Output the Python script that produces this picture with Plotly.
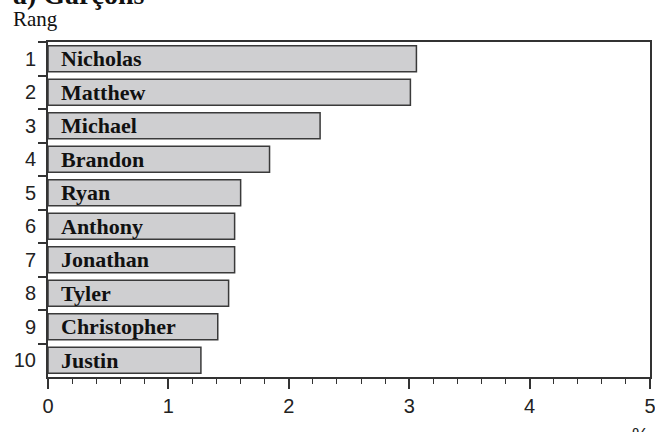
import plotly.graph_objects as go

# rank / name / share in %
ranks = ["1", "2", "3", "4", "5", "6", "7", "8", "9", "10"]
names = ["Nicholas", "Matthew", "Michael", "Brandon", "Ryan",
         "Anthony", "Jonathan", "Tyler", "Christopher", "Justin"]
shares = [3.06, 3.01, 2.26, 1.84, 1.60, 1.55, 1.55, 1.50, 1.41, 1.27]

fig = go.Figure()
fig.add_trace(go.Bar(x=shares, y=ranks, orientation="h",
                     marker=dict(color="#cfcfd1", line=dict(color="#3a3a3a", width=1.5)),
                     hoverinfo="skip"))

# names written inside the bars (y given as category index, "1" would be read as a number)
for i, n in enumerate(names):
    fig.add_annotation(x=0, y=i, text="<b>" + n + "</b>", showarrow=False,
                       xanchor="left", xshift=11,
                       font=dict(family="Liberation Serif", size=22, color="#111"))

fig.add_annotation(xref="paper", yref="paper", x=-0.062, y=1.142, text="<b>a) Garçons</b>",
                   showarrow=False, xanchor="left", yanchor="middle",
                   font=dict(family="Liberation Serif", size=28, color="#111"))
fig.add_annotation(xref="paper", yref="paper", x=-0.062, y=1.07, text="Rang",
                   showarrow=False, xanchor="left", yanchor="middle",
                   font=dict(family="Liberation Serif", size=21, color="#111"))
fig.add_annotation(xref="paper", yref="paper", x=0.984, y=-0.171, text="%",
                   showarrow=False, xanchor="center", yanchor="middle",
                   font=dict(family="Liberation Sans", size=19, color="#222"))

fig.update_layout(
    width=655, height=432,
    margin=dict(l=48, r=5, t=42, b=55),
    paper_bgcolor="white", plot_bgcolor="white",
    showlegend=False, bargap=0.22,
    font=dict(family="Liberation Sans", size=20, color="#222"),
)
fig.update_xaxes(range=[0, 5], dtick=1, showgrid=False, zeroline=False, automargin=False,
                 showline=True, linecolor="#333", linewidth=2, mirror=True,
                 ticks="outside", ticklen=10, tickcolor="#333", tickwidth=1.5,
                 ticklabeloverflow="allow",
                 minor=dict(dtick=0.2, ticks="outside", ticklen=5, tickcolor="#333", tickwidth=1),
                 fixedrange=True)
fig.update_yaxes(autorange="reversed", type="category", tickson="boundaries", automargin=False,
                 showgrid=False, showline=True, linecolor="#333", linewidth=2, mirror=True,
                 ticks="outside", ticklen=8, tickcolor="#333", tickwidth=1.5,
                 ticklabelstandoff=6, fixedrange=True)

# the page body has an 8px default margin; drop it so the figure fills the window
fig.write_html("out.html", config={"displayModeBar": False},
               post_script="document.body.style.margin='0';")
